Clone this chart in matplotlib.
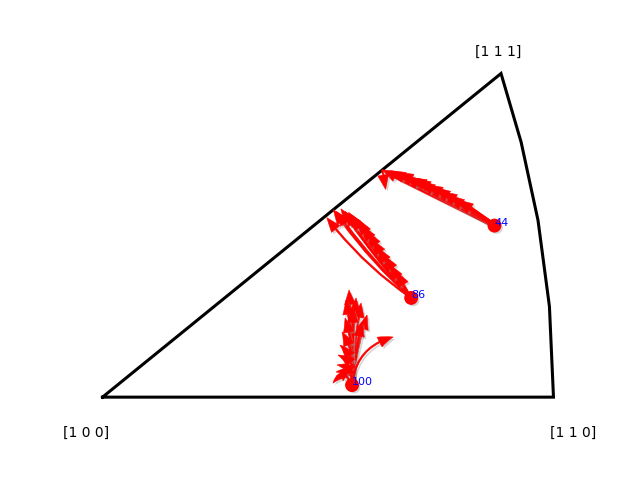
import numpy as np
import matplotlib
matplotlib.use("Agg")
import matplotlib.pyplot as plt
import matplotlib.patheffects as pe
from matplotlib.patches import FancyArrowPatch

# corner labels of the standard stereographic triangle
corner_labels = ["[1 0 0]", "[1 1 0]", "[1 1 1]"]

# grain ids and their starting orientation (stereographic x, y)
grain_ids = [44, 86, 100]
start_x = [0.360, 0.2835, 0.2292]
start_y = [0.194, 0.1122, 0.0136]

# arrow tips for every grain (stereographic x, y) and arc curvature
tips_44_x = [0.257, 0.265, 0.272, 0.278, 0.284, 0.288, 0.292, 0.299, 0.306,
             0.312, 0.319, 0.327]
tips_44_y = [0.257, 0.256, 0.254, 0.250, 0.248, 0.247, 0.244, 0.240, 0.237,
             0.232, 0.228, 0.223]
rad_44 = [0.0, 0.01, 0.02, -0.02, 0.03, -0.01, -0.03, 0.02, -0.02, 0.03, -0.03, 0.0]

tips_86_x = [0.206, 0.212, 0.215, 0.219, 0.223, 0.226, 0.229, 0.235, 0.239,
             0.244, 0.248, 0.253, 0.259, 0.264, 0.270]
tips_86_y = [0.203, 0.212, 0.210, 0.213, 0.210, 0.209, 0.206, 0.201, 0.194,
             0.187, 0.178, 0.169, 0.160, 0.150, 0.142]
rad_86 = [-0.08, -0.06, -0.05, -0.04, -0.05, -0.03, -0.04, -0.03, -0.02, -0.03,
          -0.02, -0.02, -0.01, -0.02, -0.01]

tips_100_x = [0.2264, 0.2237, 0.2329, 0.2375, 0.2300, 0.2430, 0.2384, 0.2228,
              0.2200, 0.2181, 0.2163, 0.2154, 0.2145, 0.2117, 0.2669]
tips_100_y = [0.1212, 0.1099, 0.1122, 0.1065, 0.1010, 0.0929, 0.0850, 0.0895,
              0.0737, 0.0589, 0.0476, 0.0363, 0.0283, 0.0159, 0.0680]
rad_100 = [0.02, 0.05, -0.02, -0.03, 0.0, -0.05, -0.04, 0.1, 0.2, 0.35, 0.5,
           0.6, 0.7, 0.9, -0.35]

# short side steps (from x, from y, to x, to y) along the 44 path
step_44 = [(0.257, 0.257, 0.260, 0.235)]

tips_x = [tips_44_x, tips_86_x, tips_100_x]
tips_y = [tips_44_y, tips_86_y, tips_100_y]
rads = [rad_44, rad_86, rad_100]


def stereo(u, v, w):
    n = np.sqrt(u**2 + v**2 + w**2)
    u, v, w = u / n, v / n, w / n
    return v / (1 + u), w / (1 + u)


shadow = [pe.SimplePatchShadow(offset=(1.5, -1.5), shadow_rgbFace="0.6", alpha=0.4),
          pe.Normal()]

fig, ax = plt.subplots(figsize=(6.4, 4.8), dpi=100)

# triangle edges: [100]-[110], arc [110]-[111], [111]-[100]
t = np.linspace(0, 1, 5)
arc_x, arc_y = stereo(np.ones_like(t), np.ones_like(t), t)
x100, y100 = stereo(1.0, 0.0, 0.0)
x110, y110 = stereo(1.0, 1.0, 0.0)
x111, y111 = stereo(1.0, 1.0, 1.0)
edge_x = np.concatenate([[x100], arc_x, [x100]])
edge_y = np.concatenate([[y100], arc_y, [y100]])
ax.plot(edge_x, edge_y, color="black", lw=2.2, solid_joinstyle="miter")

ax.text(x100 - 0.015, y100 - 0.04, corner_labels[0], ha="center", va="center", fontsize=10)
ax.text(x110 + 0.018, y110 - 0.04, corner_labels[1], ha="center", va="center", fontsize=10)
ax.text(x111 - 0.003, y111 + 0.024, corner_labels[2], ha="center", va="center", fontsize=10)

tails = [0.22, 0.09, 0.09]
for g in range(len(grain_ids)):
    style = f"simple,head_length=0.8,head_width=0.6,tail_width={tails[g]}"
    for tx, ty, r in zip(tips_x[g], tips_y[g], rads[g]):
        arr = FancyArrowPatch((start_x[g], start_y[g]), (tx, ty),
                              connectionstyle=f"arc3,rad={r}",
                              arrowstyle=style, mutation_scale=13,
                              color="red", lw=0.4, shrinkA=0, shrinkB=0,
                              path_effects=shadow, zorder=3)
        ax.add_patch(arr)

for x0, y0, x1, y1 in step_44:
    arr = FancyArrowPatch((x0, y0), (x1, y1),
                          arrowstyle="simple,head_length=0.8,head_width=0.6,tail_width=0.09",
                          mutation_scale=13, color="red", lw=0.4, shrinkA=0, shrinkB=0,
                          path_effects=shadow, zorder=3)
    ax.add_patch(arr)

for gid, sx, sy in zip(grain_ids, start_x, start_y):
    ax.plot(sx, sy, "o", color="red", ms=9, zorder=4, path_effects=shadow)
    ax.text(sx, sy, str(gid), color="blue", fontsize=8, zorder=5)

ax.set_xlim(-0.0207, 0.4349)
ax.set_ylim(-0.034, 0.384)
ax.axis("off")

plt.savefig("out.png")
